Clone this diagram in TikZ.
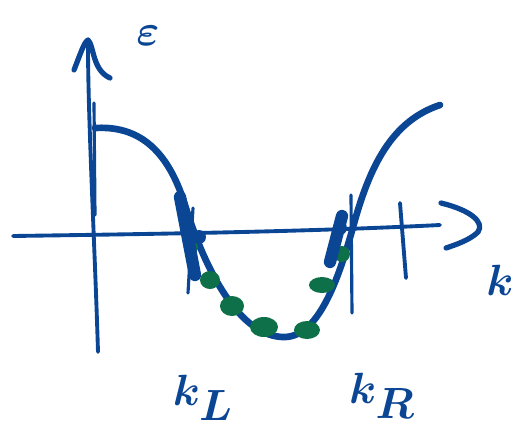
\documentclass[tikz,border=0pt]{standalone}
\usepackage{bm}
\usetikzlibrary{calc}
\definecolor{ink}{HTML}{0B4694}
\definecolor{gink}{HTML}{0D7049}
\tikzset{
  axisline/.style={draw=ink, line width=2.2pt, line cap=round, line join=round},
  curveline/.style={draw=ink, line width=3.8pt, line cap=round, line join=round},
  thickmark/.style={draw=ink, line width=7pt, line cap=round},
  thinmark/.style={draw=ink, line width=1.8pt, line cap=round},
  gdot/.style={fill=gink, draw=none},
  lab/.style={text=ink, inner sep=0pt}
}
\begin{document}
\begin{tikzpicture}[x=0.02cm, y=-0.02cm]
\useasboundingbox (0,0) rectangle (522,441);
% vertical axis
\draw[axisline] (98,352) .. controls (95,250) and (88,120) .. (88,45);
\draw[axisline, line width=3pt] (74,70) .. controls (80,55) and (84,42) .. (88,40) .. controls (94,45) and (92,70) .. (110,78);
\draw[thinmark] (94,103) -- (95,215);
% horizontal axis
\draw[axisline] (13,236) .. controls (150,234) and (300,232) .. (440,225);
\draw[axisline, line width=3pt] (441,203) .. controls (470,210) and (485,222) .. (478,232) .. controls (470,240) and (455,245) .. (446,248);
\draw[thinmark, line width=2.2pt] (400,203) -- (406,278);
% curve
\draw[curveline] (95,128) .. controls (130,126) and (165,140) .. (185,205)
  .. controls (205,270) and (240,338) .. (285,337)
  .. controls (320,336) and (340,275) .. (355,220)
  .. controls (372,160) and (395,120) .. (440,105);
% green dots
\foreach \p/\rx/\ry in {{(210,280)}/10/9, {(232,306)}/12/10, {(264,327)}/14/10, {(307,330)}/13/9, {(322,285)}/13/8, {(342,254)}/8/8, {(192,247)}/6/7}
  \fill[gdot] \p ellipse ({\rx*0.02cm} and {\ry*0.02cm});
% marks at kL
\draw[thickmark] (180,197) -- (195,275);
\fill[ink] (199,237) circle (7*0.02cm);
\draw[thinmark] (193,208) -- (188,293);
% marks at kR
\draw[thickmark] (342,216) -- (330,262);
\fill[ink] (340,228) circle (7*0.02cm);
\draw[thinmark] (351,195) -- (352,313);
% labels
\node[lab, font=\fontsize{40}{40}\selectfont] (eps) at (148,36) {$\bm{\varepsilon}$};
\node[lab, font=\fontsize{50}{50}\selectfont] (kL) at (203,398) {$\bm{k_{L}}$};
\node[lab, font=\fontsize{50}{50}\selectfont] (kR) at (382,396) {$\bm{k_{R}}$};
\node[lab, font=\fontsize{36}{36}\selectfont] (k) at (500,280) {$\bm{k}$};
\end{tikzpicture}
\end{document}
